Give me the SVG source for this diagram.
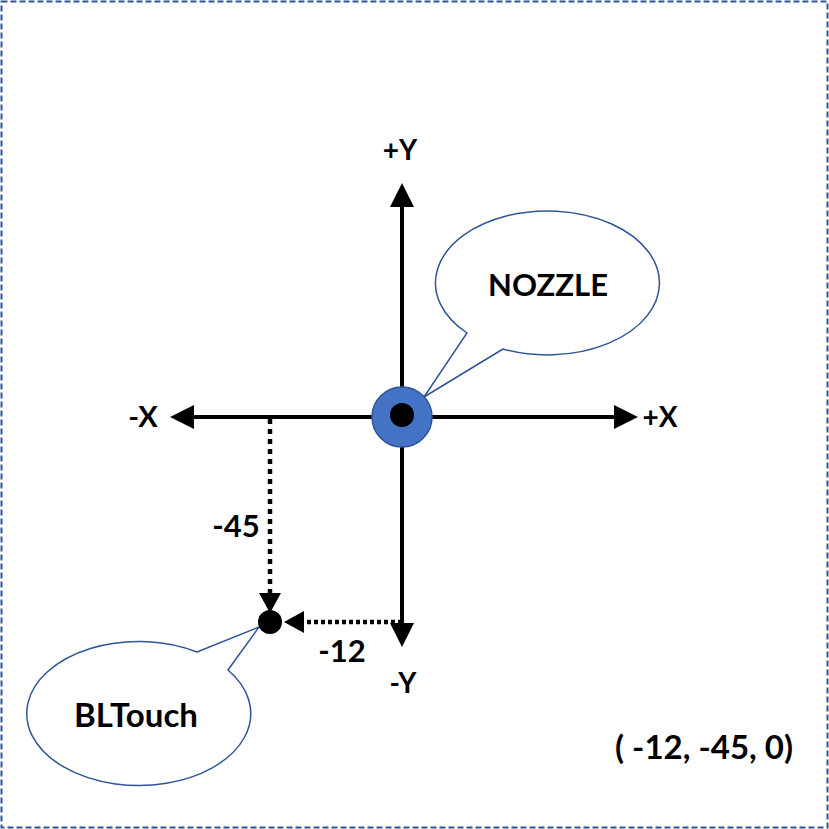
<svg xmlns="http://www.w3.org/2000/svg" width="829" height="829" viewBox="0 0 829 829">
<style>
  .lbl { font-family: Lato, "Open Sans", "Liberation Sans", sans-serif; font-weight: bold; fill: #000; }
  .axis { stroke: #000; stroke-width: 4; fill: none; }
  .dot { stroke: #000; stroke-width: 4.5; fill: none; }
  .callout { fill: #fff; stroke: #2F5597; stroke-width: 1.5; }
</style>
<defs>
  <marker id="ah" markerUnits="userSpaceOnUse" viewBox="0 0 24 24" refX="0" refY="12" markerWidth="24" markerHeight="24" orient="auto-start-reverse">
    <path d="M0,0 L24,12 L0,24 Z" fill="#000"/>
  </marker>
  <marker id="ahs" markerUnits="userSpaceOnUse" viewBox="0 0 20 22" refX="0" refY="11" markerWidth="20" markerHeight="22" orient="auto">
    <path d="M0,0 L20,11 L0,22 Z" fill="#000"/>
  </marker>
</defs>
<rect x="1.5" y="1.5" width="826" height="826" fill="#fff" stroke="#2F5597" stroke-width="2" stroke-dasharray="6 3"/>
<g id="connectors">
  <line class="axis" x1="402" y1="207" x2="402" y2="623" marker-start="url(#ah)" marker-end="url(#ah)"/>
  <line class="axis" x1="194" y1="417" x2="614" y2="417" marker-start="url(#ah)" marker-end="url(#ah)"/>
  <line class="dot" x1="270" y1="419" x2="270" y2="593" stroke-dasharray="5 5" marker-end="url(#ahs)"/>
  <line class="dot" x1="402" y1="622" x2="304" y2="622" stroke-dasharray="4 3" marker-end="url(#ahs)"/>
</g>
<g id="nozzle-callout">
  <path class="callout" d="M503,349 L424,397 L467,333 A112,72 0 1 1 503,349 Z"/>
  <text class="lbl" x="548" y="296" font-size="31" text-anchor="middle">NOZZLE</text>
</g>
<g id="nozzle">
  <circle cx="402" cy="417" r="30" fill="#4472C4" stroke="#2F5597" stroke-width="1.5"/>
  <circle cx="402" cy="415" r="12" fill="#000"/>
</g>
<g id="bltouch-callout">
  <path class="callout" d="M197,652 L259,627 L228,670 A112,72 0 1 1 197,652 Z"/>
  <text class="lbl" x="136" y="727" font-size="33" text-anchor="middle">BLTouch</text>
</g>
<g id="bltouch">
  <circle cx="270" cy="622" r="12" fill="#000"/>
</g>
<g id="labels">
  <text class="lbl" x="400" y="160" font-size="28" text-anchor="middle">+Y</text>
  <text class="lbl" x="403" y="693" font-size="28" text-anchor="middle">-Y</text>
  <text class="lbl" x="143" y="427" font-size="29" text-anchor="middle">-X</text>
  <text class="lbl" x="660" y="427" font-size="28" text-anchor="middle">+X</text>
  <text class="lbl" x="236" y="537" font-size="31" text-anchor="middle">-45</text>
  <text class="lbl" x="342" y="662" font-size="31" text-anchor="middle">-12</text>
  <text class="lbl" x="704" y="759" font-size="33" text-anchor="middle">( -12, -45, 0)</text>
</g>
</svg>
